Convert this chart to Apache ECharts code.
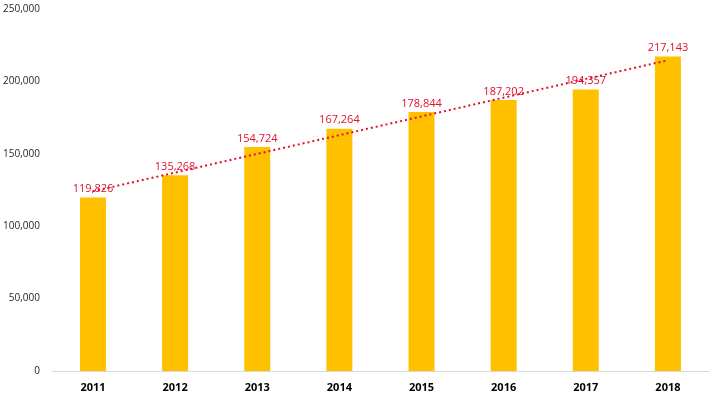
<!DOCTYPE html>
<html>
<head>
<meta charset="utf-8">
<script src="https://cdn.jsdelivr.net/npm/echarts@6/dist/echarts.min.js"></script>
<style>
html, body { margin: 0; padding: 0; background: #fff; }
#main { width: 718px; height: 398px; }
</style>
</head>
<body>
<div id="main"></div>
<script>
// 年份与数值
var years = ['2011', '2012', '2013', '2014', '2015', '2016', '2017', '2018'];
var values = [119826, 135268, 154724, 167264, 178844, 187202, 194357, 217143];
// 趋势线两端
var trendYears = ['2011', '2018'];
var trendValues = [124100, 214600];

var chart = echarts.init(document.getElementById('main'));
chart.setOption({
	animation: false,
	grid: {
		left: 51,
		right: 9,
		top: 9,
		bottom: 27
	},
	xAxis: {
		type: 'category',
		data: years,
		axisLine: { lineStyle: { color: '#d9d9d9', width: 1 } },
		axisTick: { show: false },
		axisLabel: {
			color: '#000',
			fontWeight: 'bold',
			fontSize: 11,
			fontFamily: 'Open Sans',
			margin: 11
		}
	},
	yAxis: {
		type: 'value',
		min: 0,
		max: 250000,
		interval: 50000,
		splitLine: { show: false },
		axisLine: { show: false },
		axisTick: { show: false },
		axisLabel: {
			color: '#262626',
			fontSize: 10,
			fontFamily: 'Open Sans',
			margin: 12,
			formatter: function (v) { return v.toLocaleString('en-US'); }
		}
	},
	series: [
		{
			type: 'bar',
			data: values,
			barWidth: 26,
			itemStyle: { color: '#ffc000' },
			label: {
				show: true,
				position: 'top',
				distance: 3,
				color: '#e0102a',
				fontSize: 11,
				fontFamily: 'Open Sans',
				formatter: function (p) { return p.value.toLocaleString('en-US'); }
			}
		},
		{
			type: 'line',
			data: [[trendYears[0], trendValues[0]], [trendYears[1], trendValues[1]]],
			symbol: 'none',
			z: 5,
			lineStyle: { color: '#e0102a', width: 2, type: [2, 3] }
		}
	]
});
</script>
</body>
</html>
